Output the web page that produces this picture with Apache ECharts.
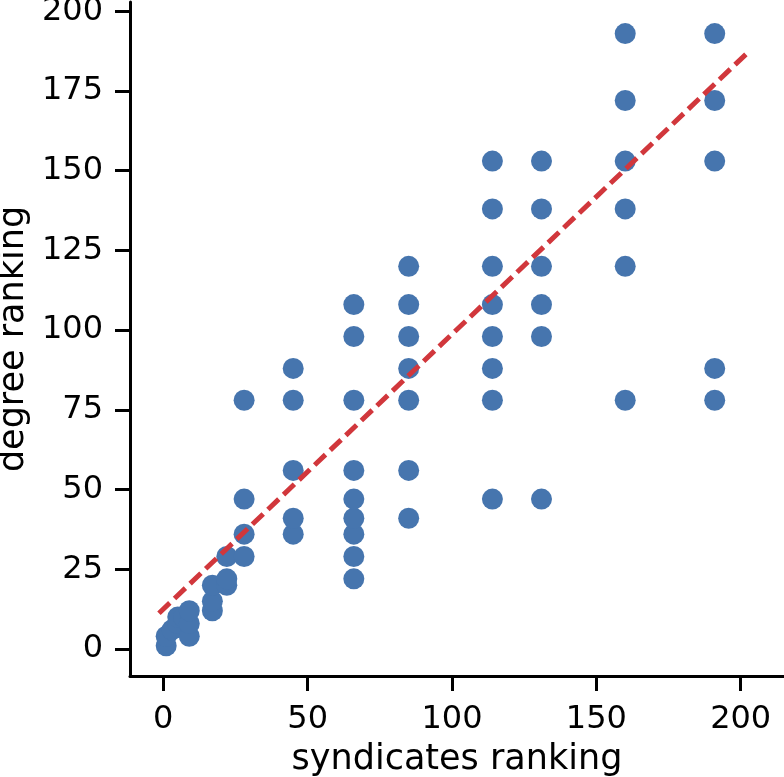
<!DOCTYPE html>
<html>
<head>
<meta charset="utf-8">
<script src="https://cdn.jsdelivr.net/npm/echarts@6/dist/echarts.min.js"></script>
<style>
html,body{margin:0;padding:0;background:#fff;}
#c{width:784px;height:777px;}
</style>
</head>
<body>
<div id="c"></div>
<script>
// syndicates ranking (x) and degree ranking (y)
const syndX = [1,1,3,5,5,7,9,9,9,
  17,17,17,22,22,22,
  28,28,28,28,
  45,45,45,45,45,
  66,66,66,66,66,66,66,66,66,
  85,85,85,85,85,85,85,
  114,114,114,114,114,114,114,114,
  131,131,131,131,131,131,
  160,160,160,160,160,160,
  191,191,191,191,191];
const degreeY = [1,4,6,8,10,10,4,8,12,
  12,15,20,20,22,29,
  29,36,47,78,
  36,41,56,78,88,
  22,29,36,41,47,56,78,98,108,
  41,56,78,88,98,108,120,
  47,78,88,98,108,120,138,153,
  47,98,108,120,138,153,
  78,120,138,153,172,193,
  78,88,153,172,193];
// fitted trend line endpoints
const fitX = [-1.5, 202.5];
const fitY = [11.2, 187.1];
const xTicks = [0, 50, 100, 150, 200];
const yTicks = [0, 25, 50, 75, 100, 125, 150, 175, 200];

const pts = syndX.map((x, i) => [x, degreeY[i]]);
const fit = fitX.map((x, i) => [x, fitY[i]]);

const chart = echarts.init(document.getElementById('c'));
const font = 'DejaVu Sans';
chart.setOption({
  animation: false,
  backgroundColor: '#ffffff',
  grid: {left: 130, right: 0, top: 2, bottom: 101, containLabel: false, outerBoundsMode: 'none'},
  xAxis: {
    type: 'value', min: -11.53, max: 215,
    name: 'syndicates ranking', nameLocation: 'middle', nameGap: 66,
    nameTextStyle: {fontFamily: font, fontSize: 35, color: '#000'},
    axisLine: {show: true, onZero: false, lineStyle: {color: '#000', width: 3}},
    axisTick: {show: true, inside: false, length: 15, lineStyle: {color: '#000', width: 3}, customValues: xTicks},
    axisLabel: {fontFamily: font, fontSize: 32, color: '#000', margin: 28, customValues: xTicks},
    splitLine: {show: false}
  },
  yAxis: {
    type: 'value', min: -8.47, max: 202.9,
    name: 'degree ranking', nameLocation: 'middle', nameGap: 97,
    nameTextStyle: {fontFamily: font, fontSize: 35, color: '#000'},
    axisLine: {show: true, onZero: false, lineStyle: {color: '#000', width: 3}},
    axisTick: {show: true, inside: false, length: 15, lineStyle: {color: '#000', width: 3}, customValues: yTicks},
    axisLabel: {fontFamily: font, fontSize: 32, color: '#000', margin: 27, customValues: yTicks},
    splitLine: {show: false}
  },
  series: [
    {
      type: 'scatter', data: pts, symbol: 'circle', symbolSize: 21,
      itemStyle: {color: '#4675ae', opacity: 1}, z: 2
    },
    {
      type: 'line', data: fit, showSymbol: false, symbol: 'none',
      lineStyle: {color: '#d1373c', width: 5, type: [15, 6.5]}, z: 3
    }
  ]
});
</script>
</body>
</html>
